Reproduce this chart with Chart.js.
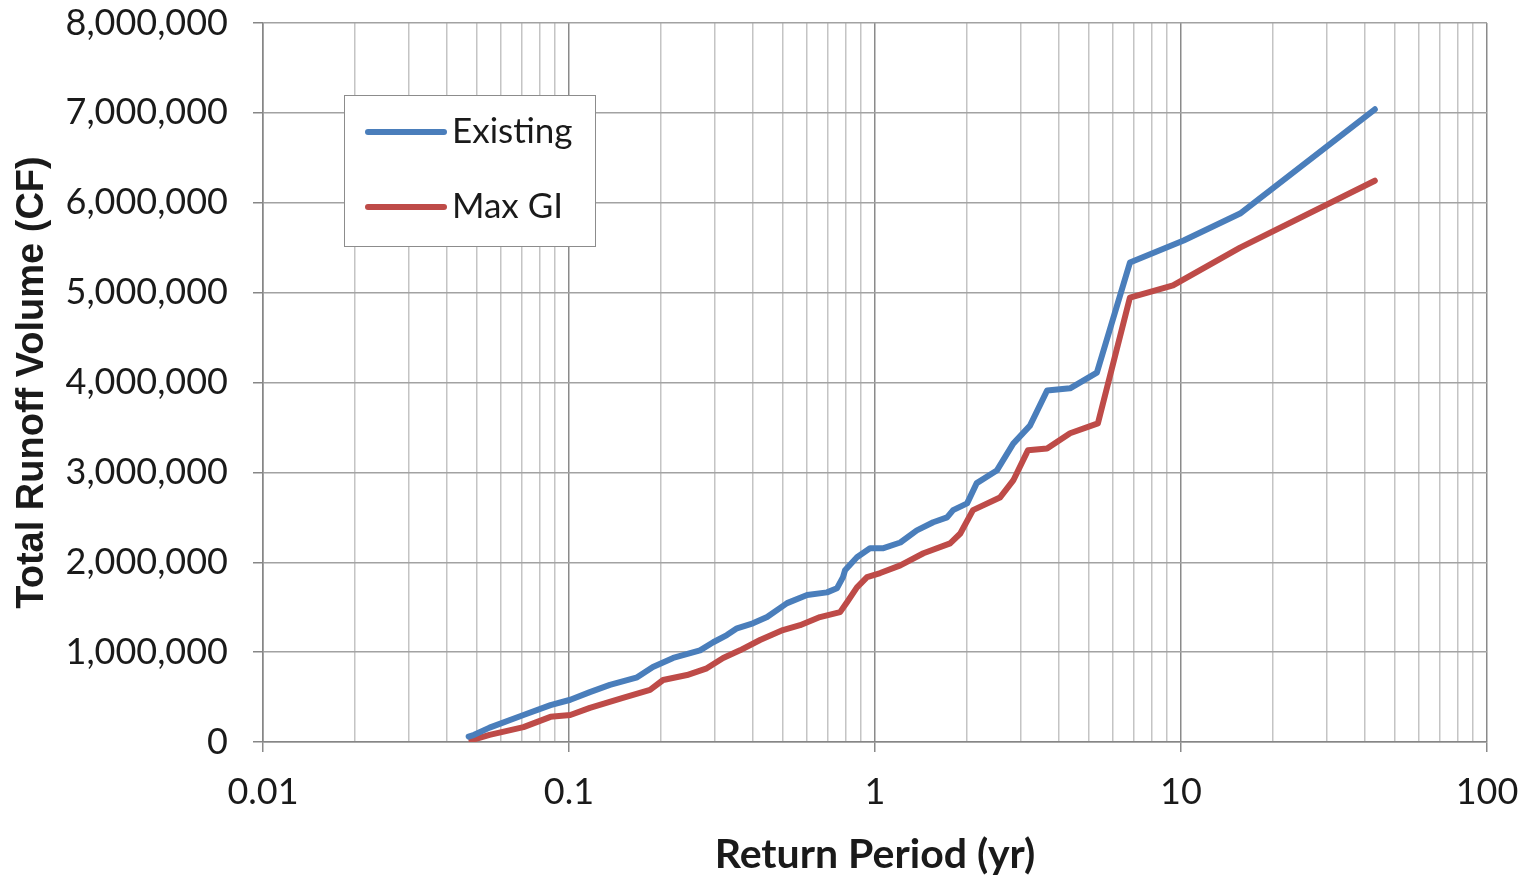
<!DOCTYPE html>
<html>
<head>
<meta charset="utf-8">
<script src="https://cdn.jsdelivr.net/npm/chart.js@4/dist/chart.umd.min.js"></script>
<style>
  html, body { margin: 0; padding: 0; background: #ffffff; }
  #wrap { width: 1530px; height: 880px; }
</style>
</head>
<body>
<div id="wrap"><canvas id="c" width="1530" height="880"></canvas></div>
<script>
// ---- data ----
const seriesNames = ['Existing', 'Max GI'];

const returnPeriodExisting = [0.047,0.049,0.055,0.071,0.087,0.101,0.117,0.136,0.167,0.188,0.219,0.268,0.296,0.328,0.354,0.399,0.444,0.516,0.600,0.697,0.751,0.786,0.798,0.873,0.963,1.06,1.21,1.37,1.55,1.72,1.80,2.00,2.15,2.50,2.83,3.21,3.65,4.34,5.31,6.81,10.2,15.6,43.0];
const volumeExisting = [60000,80000,160000,300000,410000,470000,555000,635000,720000,835000,935000,1020000,1110000,1190000,1265000,1320000,1390000,1545000,1635000,1665000,1710000,1835000,1910000,2055000,2155000,2155000,2220000,2355000,2445000,2500000,2580000,2655000,2880000,3020000,3320000,3520000,3910000,3935000,4110000,5335000,5580000,5880000,7040000];

const returnPeriodMaxGI = [0.048,0.055,0.071,0.087,0.101,0.117,0.150,0.184,0.203,0.243,0.282,0.319,0.362,0.421,0.500,0.569,0.661,0.769,0.810,0.873,0.942,1.04,1.21,1.44,1.76,1.90,2.09,2.56,2.83,3.16,3.65,4.34,5.35,6.81,9.42,15.6,43.0];
const volumeMaxGI = [20000,80000,165000,280000,300000,380000,490000,580000,690000,745000,820000,935000,1020000,1135000,1245000,1300000,1390000,1445000,1555000,1720000,1835000,1880000,1965000,2100000,2210000,2320000,2580000,2720000,2910000,3245000,3265000,3435000,3545000,4945000,5080000,5500000,6245000];

const xMajorTicks = [0.01, 0.1, 1, 10, 100];
const xTickLabels = ['0.01', '0.1', '1', '10', '100'];
const yTickValues = [0,1000000,2000000,3000000,4000000,5000000,6000000,7000000,8000000];
const yTickLabels = ['0','1,000,000','2,000,000','3,000,000','4,000,000','5,000,000','6,000,000','7,000,000','8,000,000'];
const xTitle = 'Return Period (yr)';
const yTitle = 'Total Runoff Volume (CF)';

// ---- build ----
const toPts = (xs, ys) => xs.map((x, i) => ({ x: x, y: ys[i] }));

// all log grid positions: 1..9 x 10^n
const xAllTicks = [];
for (let d = 0; d < xMajorTicks.length - 1; d++) {
  for (let m = 1; m <= 9; m++) {
    xAllTicks.push(parseFloat((m * xMajorTicks[d]).toPrecision(3)));
  }
}
xAllTicks.push(xMajorTicks[xMajorTicks.length - 1]);
const isMajor = v => xMajorTicks.some(t => Math.abs(t - v) / t < 1e-6);

const blue = '#4a7ebb';
const red = '#be4b48';
const tickFont = { family: 'Lato', size: 36 };

const legendPlugin = {
  id: 'boxLegend',
  afterDraw(chart) {
    const ctx = chart.ctx;
    const a = chart.chartArea;
    const x0 = a.left + 81, y0 = a.top + 72, w = 251, h = 151;
    ctx.save();
    ctx.fillStyle = '#ffffff';
    ctx.fillRect(x0, y0, w, h);
    ctx.strokeStyle = '#8c8c8c';
    ctx.lineWidth = 1;
    ctx.strokeRect(x0 + 0.5, y0 + 0.5, w, h);
    const rows = [y0 + 37, y0 + 112];
    chart.data.datasets.forEach((ds, i) => {
      const yy = rows[i];
      ctx.strokeStyle = ds.borderColor;
      ctx.lineWidth = 6;
      ctx.lineCap = 'round';
      ctx.beginPath();
      ctx.moveTo(x0 + 24, yy);
      ctx.lineTo(x0 + 100, yy);
      ctx.stroke();
      ctx.fillStyle = '#1a1a1a';
      ctx.font = '35px Lato';
      ctx.textBaseline = 'middle';
      ctx.textAlign = 'left';
      ctx.fillText(ds.label, x0 + 108, yy);
    });
    ctx.restore();
  }
};

new Chart(document.getElementById('c'), {
  type: 'line',
  data: {
    datasets: [
      { label: seriesNames[0], data: toPts(returnPeriodExisting, volumeExisting), borderColor: blue, backgroundColor: blue, borderWidth: 6, pointRadius: 0, tension: 0, borderCapStyle: 'round', borderJoinStyle: 'round' },
      { label: seriesNames[1], data: toPts(returnPeriodMaxGI, volumeMaxGI), borderColor: red, backgroundColor: red, borderWidth: 6, pointRadius: 0, tension: 0, borderCapStyle: 'round', borderJoinStyle: 'round' }
    ]
  },
  options: {
    responsive: false,
    animation: false,
    devicePixelRatio: 1,
    layout: { padding: { top: 23, right: 43, bottom: 0, left: 0 } },
    plugins: { legend: { display: false }, tooltip: { enabled: false } },
    scales: {
      x: {
        type: 'logarithmic',
        min: xMajorTicks[0],
        max: xMajorTicks[xMajorTicks.length - 1],
        afterBuildTicks: s => { s.ticks = xAllTicks.map(v => ({ value: v, major: isMajor(v) })); },
        afterFit: s => { s.height = 138; s.paddingLeft = 0; s.paddingRight = 0; },
        ticks: {
          autoSkip: false, maxRotation: 0, minRotation: 0, padding: 19,
          color: '#1a1a1a', font: tickFont,
          callback: v => { const i = xMajorTicks.findIndex(t => Math.abs(t - v) / t < 1e-6); return i >= 0 ? xTickLabels[i] : ''; }
        },
        grid: {
          color: c => (c.tick && c.tick.major) ? '#8a8a8a' : '#c4c4c4',
          tickColor: c => (c.tick && c.tick.major) ? '#8a8a8a' : 'rgba(0,0,0,0)',
          tickLength: 10, lineWidth: 1.5
        },
        border: { color: '#868686', width: 1.5 },
        title: { display: true, text: xTitle, color: '#1a1a1a', font: { family: 'Lato', size: 41, weight: 'bold' }, padding: { top: 0, bottom: 1 } }
      },
      y: {
        min: 0, max: 8000000,
        afterBuildTicks: s => { s.ticks = yTickValues.map(v => ({ value: v })); },
        afterFit: s => { s.width = 263; s.paddingTop = 0; s.paddingBottom = 0; },
        ticks: {
          padding: 25, color: '#1a1a1a', font: tickFont,
          callback: (v, i) => yTickLabels[i]
        },
        grid: { color: '#a2a2a2', tickColor: '#868686', tickLength: 10, lineWidth: 1.5 },
        border: { color: '#868686', width: 1.5 },
        title: { display: true, text: yTitle, color: '#1a1a1a', font: { family: 'Liberation Sans', size: 38, weight: 'bold' }, padding: { top: 10, bottom: 0 } }
      }
    }
  },
  plugins: [legendPlugin]
});
</script>
</body>
</html>
